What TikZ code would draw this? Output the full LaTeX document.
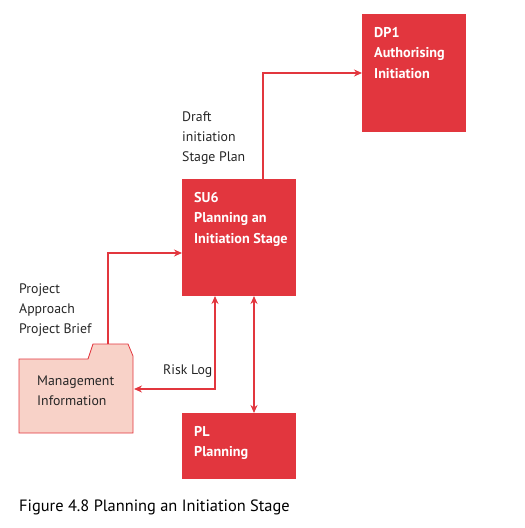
\documentclass[tikz,border=0pt]{standalone}
\usepackage{fontspec}
\setmainfont{PT Sans}
\usetikzlibrary{arrows.meta}
\definecolor{pred}{HTML}{E2363E}
\definecolor{ppink}{HTML}{F8D2C8}
\tikzset{
  procbox/.style={fill=pred, draw=none},
  boxtext/.style={anchor=north west, inner sep=0pt, align=left, text=white,
    font=\fontsize{14.2pt}{20.5pt}\selectfont\bfseries},
  lbl/.style={anchor=north west, inner sep=0pt, align=left, text=black!85,
    font=\fontsize{13.8pt}{20pt}\selectfont},
  flow/.style={draw=pred, line width=1.5pt, -{Stealth[length=8pt,width=7pt]}},
  flow2/.style={draw=pred, line width=1.5pt, {Stealth[length=8pt,width=7pt]}-{Stealth[length=8pt,width=7pt]}},
}
\begin{document}
\begin{tikzpicture}[x=1pt,y=-1pt]
\useasboundingbox (0,0) rectangle (525,528);
% boxes
\path[procbox] (362,14) rectangle (466,132);
\coordinate (dp1w) at (362,73);
\path[procbox] (182,179) rectangle (296,296);
\path[procbox] (182,413) rectangle (296,479);
\node[boxtext] (dp1t) at (374,27) {DP1\\Authorising\\Initiation};
\node[boxtext] (su6t) at (194,192) {SU6\\Planning an\\Initiation Stage};
\node[boxtext] (plt) at (194,426) {PL\\Planning};
% folder
\draw[pred, line width=0.8pt, fill=ppink] (19,359) -- (88,359) -- (93,344) -- (128,344) -- (133,356) -- (133,433) -- (19,433) -- cycle;
\node[lbl] (mi) at (37,376) {Management\\Information};
% coordinates
\coordinate (su6top) at (263,179);
\coordinate (c1) at (263,73);
\coordinate (su6left) at (182,253);
\coordinate (fold) at (108,344);
\coordinate (c2) at (108,253);
\coordinate (su6b1) at (215,296);
\coordinate (c3) at (215,389);
\coordinate (folr) at (134,389);
\coordinate (su6b2) at (254,296);
\coordinate (pltop) at (254,413);
% connectors
\draw[flow] (su6top) -- (c1) -- (dp1w);
\draw[flow] (fold) -- (c2) -- (su6left);
\draw[flow2] (su6b1) -- (c3) -- (folr);
\draw[flow2] (su6b2) -- (pltop);
% labels
\node[lbl] (draft) at (182,112) {Draft\\initiation\\Stage Plan};
\node[lbl] (pa) at (19,284) {Project\\Approach\\Project Brief};
\node[lbl] (rl) at (163,365) {Risk Log};
\node[anchor=base west, inner sep=0pt, text=black, font=\fontsize{16.4pt}{18pt}\selectfont] (cap) at (19,511) {Figure 4.8 Planning an Initiation Stage};
\end{tikzpicture}
\end{document}
